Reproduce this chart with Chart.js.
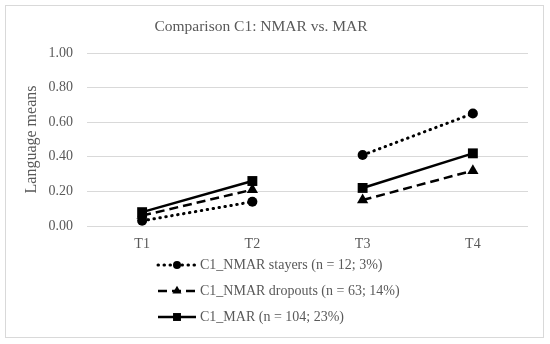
<!DOCTYPE html>
<html>
<head>
<meta charset="utf-8">
<script src="https://cdn.jsdelivr.net/npm/chart.js@4/dist/chart.umd.min.js"></script>
<style>
html, body { margin: 0; padding: 0; background: #fff; }
</style>
</head>
<body>
<canvas id="lineChart" width="550" height="344"></canvas>
<script>
// data
var labels = ["T1", "T2", "T3", "T4"];
var seriesNames = ["C1_NMAR stayers (n = 12; 3%)", "C1_NMAR dropouts (n = 63; 14%)", "C1_MAR (n = 104; 23%)"];
var nmarStayers = [0.03, 0.14, 0.41, 0.65];
var nmarDropouts = [0.06, 0.21, 0.15, 0.32];
var marValues = [0.08, 0.26, 0.22, 0.42];
var chartTitle = "Comparison C1: NMAR vs. MAR";
var yTitle = "Language means";

var textGray = '#595959';
var gridGray = '#d9d9d9';
var serif = '"Liberation Serif", "DejaVu Serif", serif';

// no line between T2 and T3
var gapSegment = {
	borderColor: function (c) { return c.p0DataIndex === 1 ? 'rgba(0,0,0,0)' : undefined; }
};

var framePlugin = {
	id: 'frame',
	beforeDraw: function (chart) {
		var ctx = chart.ctx;
		ctx.save();
		ctx.fillStyle = '#fff';
		ctx.fillRect(0, 0, chart.width, chart.height);
		ctx.strokeStyle = gridGray;
		ctx.lineWidth = 1;
		ctx.strokeRect(5.5, 5.5, 538, 332);
		ctx.restore();
	},
	afterDraw: function (chart) {
		var ctx = chart.ctx;
		ctx.save();
		ctx.fillStyle = textGray;
		ctx.font = '15.5px ' + serif;
		ctx.textAlign = 'center';
		ctx.textBaseline = 'middle';
		ctx.fillText(chartTitle, 261, 27);

		// legend, one entry per row
		ctx.font = '14px ' + serif;
		ctx.textAlign = 'left';
		chart.data.datasets.forEach(function (ds, i) {
			var y = 265 + i * 26;
			ctx.save();
			ctx.strokeStyle = '#000';
			ctx.lineWidth = ds.borderWidth;
			ctx.lineCap = ds.borderCapStyle || 'butt';
			ctx.setLineDash(ds.borderDash || []);
			ctx.beginPath();
			ctx.moveTo(158, y);
			ctx.lineTo(196, y);
			ctx.stroke();
			ctx.setLineDash([]);
			ctx.fillStyle = '#000';
			Chart.helpers.drawPoint(ctx, { pointStyle: ds.pointStyle, rotation: 0, radius: ds.pointRadius * 0.8, borderWidth: 0 }, 177, y);
			ctx.restore();
			ctx.fillStyle = textGray;
			ctx.fillText(ds.label, 200, y);
		});
		ctx.restore();
	}
};

var ctxL = document.getElementById("lineChart").getContext('2d');

var myLineChart = new Chart(ctxL, {
	type: 'line',
	data: {
		labels: labels,
		datasets: [
			{
				label: seriesNames[0],
				data: nmarStayers,
				borderColor: '#000',
				backgroundColor: '#000',
				borderWidth: 3,
				borderDash: [0.5, 5.5],
				borderCapStyle: 'round',
				pointStyle: 'circle',
				pointRadius: 5,
				pointBorderWidth: 0,
				segment: gapSegment
			},
			{
				label: seriesNames[1],
				data: nmarDropouts,
				borderColor: '#000',
				backgroundColor: '#000',
				borderWidth: 2.5,
				borderDash: [9, 5],
				pointStyle: 'triangle',
				pointRadius: 6.5,
				pointBorderWidth: 0,
				segment: gapSegment
			},
			{
				label: seriesNames[2],
				data: marValues,
				borderColor: '#000',
				backgroundColor: '#000',
				borderWidth: 2.5,
				pointStyle: 'rect',
				pointRadius: 7,
				pointBorderWidth: 0,
				segment: gapSegment
			}
		]
	},
	options: {
		responsive: false,
		animation: false,
		layout: { padding: { top: 53, left: 0, right: 22, bottom: 93 } },
		plugins: {
			legend: { display: false },
			title: { display: false },
			tooltip: { enabled: false }
		},
		scales: {
			x: {
				offset: true,
				grid: { display: false, drawTicks: false },
				border: { display: false },
				ticks: { color: textGray, font: { family: serif, size: 14 }, padding: 10 },
				afterFit: function (s) { s.height = 25; }
			},
			y: {
				min: 0,
				max: 1,
				grid: { color: gridGray, lineWidth: 1, drawTicks: false },
				border: { display: false },
				ticks: {
					stepSize: 0.2,
					color: textGray,
					font: { family: serif, size: 14 },
					padding: 14,
					callback: function (v) { return v.toFixed(2); }
				},
				title: {
					display: true,
					text: yTitle,
					color: textGray,
					font: { family: serif, size: 16 },
					padding: { top: 22, bottom: 0 }
				},
				afterFit: function (s) { s.width = 87; }
			}
		}
	},
	plugins: [framePlugin]
});
</script>
</body>
</html>
